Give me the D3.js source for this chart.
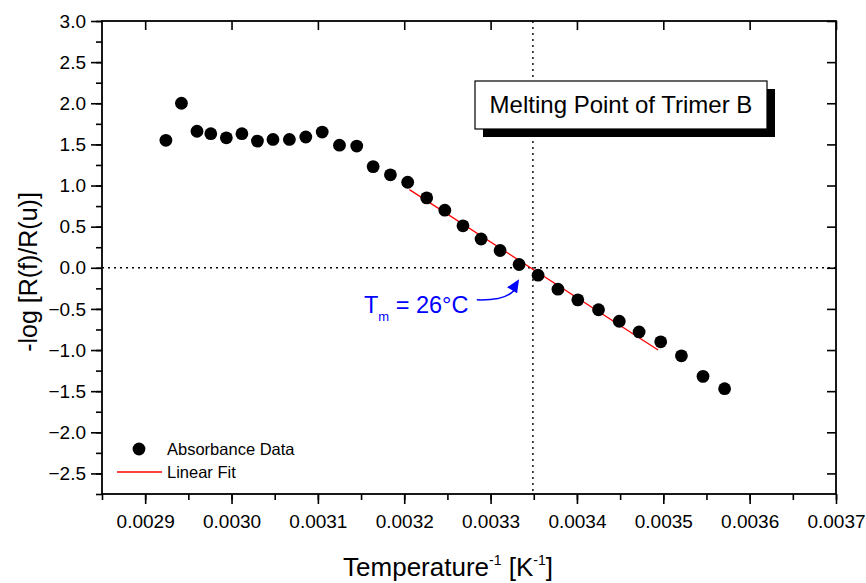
<html>
<head>
<meta charset="utf-8">
<script src="https://d3js.org/d3.v7.min.js"></script>
<style>
body { margin:0; background:#fff; }
svg { font-family: "Liberation Sans", Arial, sans-serif; }
.tick text { fill:#000; }
</style>
</head>
<body>
<div id="chart"></div>
<script>

// inverse temperature (1/K)
var invT = [0.002924, 0.002942, 0.002960, 0.002976, 0.002994, 0.003012, 0.003030, 0.003048,
            0.003067, 0.003086, 0.003105, 0.003125, 0.003145, 0.003164, 0.003184, 0.003204,
            0.003226, 0.003247, 0.003268, 0.003289, 0.003311, 0.003333, 0.003355, 0.003378,
            0.003401, 0.003425, 0.003449, 0.003472, 0.003497, 0.003521, 0.003546, 0.003571];
// -log [R(f)/R(u)]
var logR = [1.55, 2.00, 1.66, 1.63, 1.58, 1.63, 1.54, 1.56,
            1.56, 1.59, 1.65, 1.49, 1.48, 1.23, 1.13, 1.04,
            0.85, 0.70, 0.51, 0.35, 0.21, 0.04, -0.09, -0.26,
            -0.39, -0.51, -0.65, -0.78, -0.90, -1.07, -1.32, -1.47];
// linear fit end points
var fitX = [0.003206, 0.003494];
var fitY = [0.95, -1.00];
// melting point reference lines
var tmX = 0.003349, tmY = 0;

var xTicks = [0.0029, 0.0030, 0.0031, 0.0032, 0.0033, 0.0034, 0.0035, 0.0036, 0.0037];
var yTicks = [3.0, 2.5, 2.0, 1.5, 1.0, 0.5, 0.0, -0.5, -1.0, -1.5, -2.0, -2.5];

var W = 866, H = 583;
var margin = {top:21, right:30, bottom:89, left:102};
var width = W - margin.left - margin.right,
    height = H - margin.top - margin.bottom;

var x = d3.scaleLinear().domain([0.00285, 0.0037]).range([0, width]);
var y = d3.scaleLinear().domain([-2.75, 3.0]).range([height, 0]);

var svg = d3.select("#chart").append("svg")
    .attr("width", W).attr("height", H);
var g = svg.append("g")
    .attr("transform", "translate(" + margin.left + "," + margin.top + ")");

var xMinor = d3.range(0.00285, 0.00371, 0.00005);
var yMinor = d3.range(-2.75, 3.01, 0.25);

// reference dotted lines
g.append("line")
    .attr("x1", 0).attr("x2", width)
    .attr("y1", y(tmY)).attr("y2", y(tmY))
    .attr("stroke", "#000").attr("stroke-width", 1.4)
    .attr("stroke-dasharray", "2,4");
g.append("line")
    .attr("x1", x(tmX)).attr("x2", x(tmX))
    .attr("y1", 0).attr("y2", height)
    .attr("stroke", "#000").attr("stroke-width", 1.4)
    .attr("stroke-dasharray", "2,4");

// axes
var fmtX = d3.format(".4f"), fmtY = d3.format(".1f");
var xAxis = g.append("g").attr("transform", "translate(0," + height + ")")
    .call(d3.axisBottom(x).tickValues(xTicks).tickFormat(fmtX).tickSize(10).tickPadding(11));
var xAxisMinor = g.append("g").attr("transform", "translate(0," + height + ")")
    .call(d3.axisBottom(x).tickValues(xMinor).tickFormat("").tickSize(6));
var yAxis = g.append("g")
    .call(d3.axisLeft(y).tickValues(yTicks).tickFormat(function(d){ return d == 0 ? "0.0" : fmtY(d); }).tickSize(11).tickPadding(5));
var yAxisMinor = g.append("g")
    .call(d3.axisLeft(y).tickValues(yMinor).tickFormat("").tickSize(6));
// opposite axes, ticks inward
var topAxis = g.append("g")
    .call(d3.axisBottom(x).tickValues(xTicks).tickFormat("").tickSize(9));
var rightAxis = g.append("g").attr("transform", "translate(" + width + ",0)")
    .call(d3.axisLeft(y).tickValues(yTicks).tickFormat("").tickSize(9));

[xAxis, xAxisMinor, yAxis, yAxisMinor, topAxis, rightAxis].forEach(function(a) {
  a.select(".domain").remove();
  a.selectAll("line").attr("stroke", "#000").attr("stroke-width", 1.6);
  a.selectAll("text").attr("font-size", 19).attr("font-family", "Liberation Sans, Arial, sans-serif");
});

// frame
g.append("rect")
    .attr("width", width).attr("height", height)
    .attr("fill", "none").attr("stroke", "#000").attr("stroke-width", 1.8);

// linear fit
g.append("line")
    .attr("x1", x(fitX[0])).attr("y1", y(fitY[0]))
    .attr("x2", x(fitX[1])).attr("y2", y(fitY[1]))
    .attr("stroke", "#ff0000").attr("stroke-width", 1.3);

// data points
g.selectAll(".dot")
    .data(invT)
  .enter().append("circle")
    .attr("class", "dot")
    .attr("cx", function(d) { return x(d); })
    .attr("cy", function(d, i) { return y(logR[i]); })
    .attr("r", 6.4)
    .attr("fill", "#000");

// title box with shadow
var box = {x:475, y:81, w:292, h:48};
svg.append("rect")
    .attr("x", box.x + 8).attr("y", box.y + 8)
    .attr("width", box.w).attr("height", box.h)
    .attr("fill", "#000");
svg.append("rect")
    .attr("x", box.x).attr("y", box.y)
    .attr("width", box.w).attr("height", box.h)
    .attr("fill", "#fff").attr("stroke", "#000").attr("stroke-width", 1.2);
svg.append("text")
    .attr("x", box.x + box.w/2).attr("y", 113)
    .attr("text-anchor", "middle")
    .attr("font-size", 24)
    .text("Melting Point of Trimer B");

// Tm annotation
var tm = svg.append("text")
    .attr("x", 364).attr("y", 313)
    .attr("fill", "#0000ff")
    .attr("font-size", 23.5);
tm.append("tspan").text("T");
tm.append("tspan").attr("font-size", 13).attr("dy", 8).text("m");
tm.append("tspan").attr("dy", -8).text(" = 26°C");

var ax0 = margin.left + x(0.003284), ay0 = margin.top + y(-0.39);
var ax1 = margin.left + x(0.003333), ay1 = margin.top + y(-0.14);
svg.append("path")
    .attr("d", "M" + ax0 + "," + ay0 + " Q" + (ax1 - 10) + "," + (ay0 + 1) + " " + (ax1 - 3) + "," + (ay1 + 8))
    .attr("fill", "none").attr("stroke", "#0000ff").attr("stroke-width", 1.5);
svg.append("path")
    .attr("d", "M" + ax1 + "," + ay1 + " L" + (ax1 - 12) + "," + (ay1 + 8) + " L" + (ax1 - 2) + "," + (ay1 + 14) + " Z")
    .attr("fill", "#0000ff");

// legend
svg.append("circle").attr("cx", 139).attr("cy", 449).attr("r", 6.4).attr("fill", "#000");
svg.append("text").attr("x", 167).attr("y", 455).attr("font-size", 16.5).text("Absorbance Data");
svg.append("line").attr("x1", 117).attr("x2", 162).attr("y1", 472).attr("y2", 472)
    .attr("stroke", "#ff0000").attr("stroke-width", 1.3);
svg.append("text").attr("x", 167).attr("y", 478).attr("font-size", 16.5).text("Linear Fit");

// axis labels
var xl = svg.append("text")
    .attr("x", 448).attr("y", 576)
    .attr("text-anchor", "middle")
    .attr("font-size", 26);
xl.append("tspan").text("Temperature");
xl.append("tspan").attr("font-size", 14).attr("dy", -11).text("-1");
xl.append("tspan").attr("dy", 11).text(" [K");
xl.append("tspan").attr("font-size", 14).attr("dy", -11).text("-1");
xl.append("tspan").attr("dy", 11).text("]");

svg.append("text")
    .attr("transform", "translate(37,272) rotate(-90)")
    .attr("text-anchor", "middle")
    .attr("font-size", 25)
    .text("-log [R(f)/R(u)]");

</script>
</body>
</html>
